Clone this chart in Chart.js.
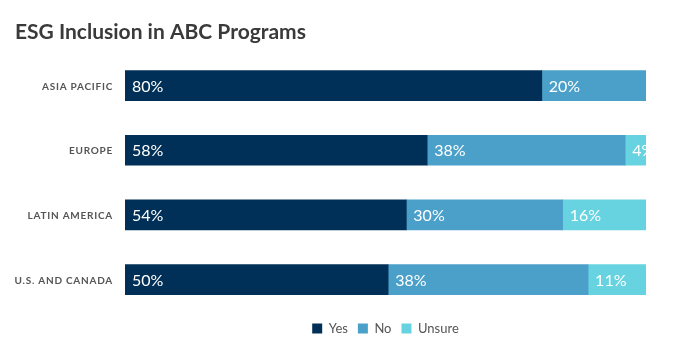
<!DOCTYPE html>
<html>
<head>
<meta charset="utf-8">
<script src="https://cdn.jsdelivr.net/npm/chart.js@4"></script>
<style>
  html, body { margin: 0; padding: 0; background: #fff; }
  #wrap { width: 700px; height: 363px; }
</style>
</head>
<body>
<div id="wrap"><canvas id="esgChart"></canvas></div>
<script>
const regions = ['ASIA PACIFIC', 'EUROPE', 'LATIN AMERICA', 'U.S. AND CANADA'];
const yes = [80, 58, 54, 50];
const no = [20, 38, 30, 38];
const unsure = [0, 4, 16, 11];

// each row is drawn as a share of its own total so the bars fill to 100%
const share = (arr, i) => arr[i] / (yes[i] + no[i] + unsure[i]) * 100;
const toShare = arr => arr.map((v, i) => share(arr, i));

const ctx = document.getElementById('esgChart');

// value labels inside each segment, clipped to the plot like the original
const segmentLabels = {
  id: 'segmentLabels',
  afterDatasetsDraw(chart) {
    const c = chart.ctx;
    const area = chart.chartArea;
    c.save();
    c.beginPath();
    c.rect(area.left, area.top, area.right - area.left, area.bottom - area.top);
    c.clip();
    c.font = '16px Lato';
    c.fillStyle = '#ffffff';
    c.textBaseline = 'middle';
    c.textAlign = 'left';
    chart.data.datasets.forEach((ds, di) => {
      const meta = chart.getDatasetMeta(di);
      meta.data.forEach((bar, i) => {
        const raw = ds.rawValues[i];
        if (!raw) return;
        const left = Math.min(bar.x, bar.base);
        c.fillText(raw + '%', left + 7, bar.y + 1);
      });
    });
    c.restore();
  }
};

// category labels with letter spacing (ticks can't do that)
const spacedTicks = {
  id: 'spacedTicks',
  afterDraw(chart) {
    const c = chart.ctx;
    const y = chart.scales.y;
    c.save();
    c.font = 'bold 10px Lato';
    c.fillStyle = '#555555';
    c.textAlign = 'right';
    c.textBaseline = 'middle';
    c.letterSpacing = '0.75px';
    chart.data.labels.forEach((lab, i) => {
      c.fillText(lab, y.right - 12, y.getPixelForTick(i) + 1);
    });
    c.restore();
  }
};

const config = {
  type: 'bar',
  data: {
    labels: regions,
    datasets: [
      { label: 'Yes', data: toShare(yes), rawValues: yes, backgroundColor: '#003057' },
      { label: 'No', data: toShare(no), rawValues: no, backgroundColor: '#4ba0ca' },
      { label: 'Unsure', data: toShare(unsure), rawValues: unsure, backgroundColor: '#68d3e0' }
    ]
  },
  options: {
    indexAxis: 'y',
    responsive: true,
    maintainAspectRatio: false,
    animation: false,
    barThickness: 30,
    layout: { padding: { left: 15, right: 54, top: 8, bottom: 18 } },
    scales: {
      x: {
        stacked: true,
        min: 0,
        max: 100,
        display: false
      },
      y: {
        stacked: true,
        grid: { display: false },
        border: { display: false },
        afterFit: scale => { scale.width = 110; },
        ticks: { display: false }
      }
    },
    plugins: {
      title: {
        display: true,
        text: 'ESG Inclusion in ABC Programs',
        align: 'start',
        color: '#3a3a3a',
        font: { family: 'Lato', size: 21, weight: 'bold' },
        padding: { top: 12, bottom: 8 }
      },
      legend: {
        position: 'bottom',
        fullSize: false,
        labels: {
          boxWidth: 10,
          boxHeight: 10,
          padding: 10,
          color: '#555555',
          font: { family: 'Lato', size: 13 }
        }
      },
      tooltip: { enabled: false }
    }
  },
  plugins: [segmentLabels, spacedTicks]
};

let esgChart = new Chart(ctx, config);
</script>
</body>
</html>
